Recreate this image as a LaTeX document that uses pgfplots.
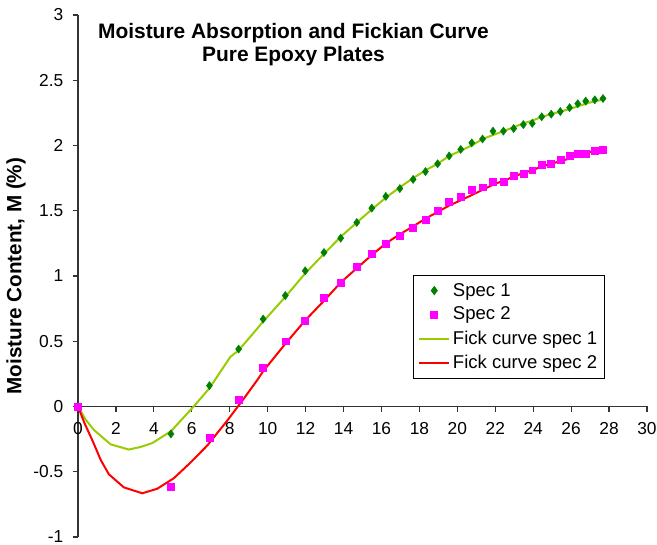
\documentclass[border=0pt]{standalone}
\usepackage{pgfplots}
\pgfplotsset{compat=1.18}
\usepackage{fontspec}
\setmainfont{Liberation Sans}

\definecolor{specone}{RGB}{0,128,0}
\definecolor{spectwo}{RGB}{255,0,255}
\definecolor{fickone}{RGB}{153,204,0}
\definecolor{ficktwo}{RGB}{255,0,0}

\begin{document}
\begin{tikzpicture}
\begin{axis}[
  scale only axis,
  width=426.75pt, height=391.5pt,
  xmin=0, xmax=30, ymin=-1, ymax=3,
  axis x line*=middle,
  axis y line*=left,
  axis line style={black!80, line width=0.9pt},
  xtick={0,2,...,30},
  ytick={-1,-0.5,0,0.5,1,1.5,2,2.5,3},
  hide obscured x ticks=false,
  hide obscured y ticks=false,
  tick align=outside,
  major tick length=4pt,
  tick style={black!80, line width=0.9pt},
  every tick label/.append style={font=\fontsize{13}{15}\selectfont},
  /pgf/number format/assume math mode=true,
  yticklabel style={/pgf/number format/fixed, /pgf/number format/precision=1, xshift=-3.5pt},
  xticklabel style={yshift=-4.5pt},
  ylabel={Moisture Content, M (\%)},
  every axis y label/.style={at={(rel axis cs:0,0.5)}, anchor=center, xshift=-46.5pt, rotate=90,
    font=\bfseries\fontsize{15.5}{17}\selectfont},
  legend style={at={(rel axis cs:0.589,0.3027)}, anchor=south west, draw=black, line width=0.7pt,
    font=\fontsize{13.9}{16}\selectfont, row sep=2.75pt, inner xsep=3.5pt, inner ysep=3.75pt},
  legend cell align=left,
  legend image code/.code={\draw[mark repeat=2,mark phase=2] plot coordinates {(0pt,0pt)(11.25pt,0pt)(22.5pt,0pt)};},
  clip=false,
]
% Spec 1
\addplot[only marks, mark=diamond*, mark size=3pt, color=specone] table {
0 0
4.90 -0.21
6.93 0.16
8.47 0.44
9.76 0.67
10.93 0.85
11.98 1.04
12.97 1.18
13.85 1.29
14.70 1.41
15.49 1.52
16.23 1.61
16.97 1.67
17.67 1.74
18.32 1.80
18.96 1.86
19.57 1.92
20.18 1.97
20.76 2.02
21.33 2.05
21.88 2.11
22.43 2.11
22.97 2.13
23.48 2.16
23.95 2.17
24.45 2.22
24.95 2.24
25.43 2.26
25.92 2.29
26.35 2.32
26.77 2.34
27.25 2.35
27.68 2.36
};
\addlegendentry{Spec 1}
% Spec 2
\addplot[only marks, mark=square*, mark size=2.6pt, color=spectwo] table {
0 0
4.90 -0.615
6.93 -0.24
8.47 0.05
9.76 0.30
10.93 0.50
11.98 0.66
12.97 0.83
13.85 0.95
14.70 1.07
15.49 1.17
16.23 1.25
16.97 1.31
17.67 1.37
18.32 1.43
18.96 1.50
19.57 1.57
20.18 1.61
20.76 1.66
21.33 1.68
21.88 1.72
22.43 1.72
22.97 1.77
23.48 1.78
23.95 1.81
24.45 1.85
24.95 1.86
25.43 1.89
25.92 1.92
26.35 1.94
26.77 1.94
27.25 1.96
27.68 1.97
};
\addlegendentry{Spec 2}
% Fick curve spec 1
\addplot[color=fickone, line width=1.5pt] table {
0 0
0.40 -0.10
0.84 -0.18
1.72 -0.29
2.68 -0.33
3.30 -0.31
3.92 -0.28
4.90 -0.19
6.10 0.00
6.93 0.14
8.03 0.38
8.47 0.43
9.76 0.65
10.93 0.84
11.98 1.02
12.97 1.17
13.85 1.30
14.70 1.41
15.49 1.51
16.23 1.60
16.97 1.68
17.67 1.75
18.32 1.81
18.96 1.86
19.57 1.92
20.18 1.96
20.76 2.00
21.33 2.05
21.88 2.08
22.43 2.11
22.97 2.14
23.48 2.17
23.95 2.19
24.45 2.22
24.95 2.24
25.43 2.26
25.92 2.28
26.35 2.30
26.77 2.32
27.25 2.34
27.68 2.35
};
\addlegendentry{Fick curve spec 1\hspace{14pt}}
% Fick curve spec 2
\addplot[color=ficktwo, line width=1.5pt] table {
0 0
0.35 -0.13
0.76 -0.26
1.20 -0.41
1.63 -0.52
2.42 -0.62
3.39 -0.665
4.18 -0.63
5.05 -0.55
5.93 -0.43
6.81 -0.30
7.86 -0.11
8.74 0.06
9.44 0.20
9.76 0.27
10.93 0.48
11.98 0.66
12.97 0.81
13.85 0.95
14.70 1.06
15.49 1.16
16.23 1.25
16.97 1.32
17.67 1.38
18.32 1.44
18.96 1.49
19.57 1.54
20.18 1.58
20.76 1.62
21.33 1.66
21.88 1.70
22.43 1.73
22.97 1.76
23.48 1.79
23.95 1.81
24.45 1.84
24.95 1.86
25.43 1.88
25.92 1.90
26.35 1.92
26.77 1.94
27.25 1.96
27.68 1.97
};
\addlegendentry{Fick curve spec 2}
\node[align=center, font=\bfseries\fontsize{15.7}{17.25}\selectfont] at (rel axis cs:0.3787,0.943)
  {Moisture Absorption and Fickian Curve\\Pure Epoxy Plates};
\coordinate (ll) at (rel axis cs:0,0);
\end{axis}
\pgfresetboundingbox
\path[use as bounding box] (ll) ++(-58.5pt,-6pt) rectangle ++(492.75pt,408.75pt);
\end{tikzpicture}
\end{document}
